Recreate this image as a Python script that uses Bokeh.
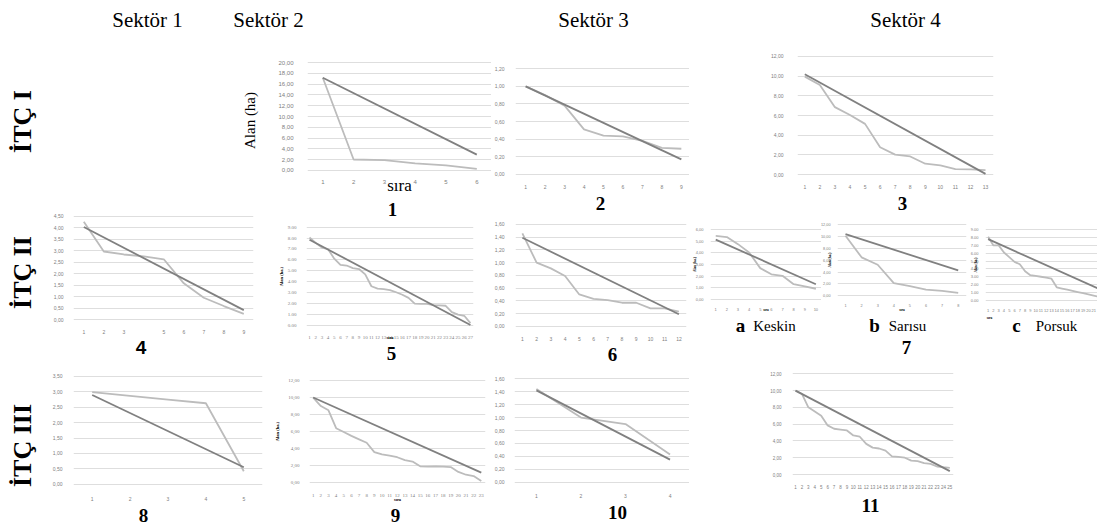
import math
from bokeh.plotting import figure
from bokeh.layouts import row, column
from bokeh.models import Range1d, FixedTicker, CustomJSTickFormatter, Label
from bokeh.embed import file_html
from bokeh.resources import INLINE

SERIF = "Liberation Serif"
SANS = "Liberation Sans"
LIGHT = "#bcbcbc"
DARK = "#808080"
GRID = "#dedede"
TICKC = "#808080"

# ---------------- data ----------------
sektor_titles = ["Sektör 1", "Sektör 2", "Sektör 3", "Sektör 4"]
itc_titles = ["İTÇ I", "İTÇ II", "İTÇ III"]
panel_numbers = ["1", "2", "3", "4", "5", "6", "7", "8", "9", "10", "11"]
sub_letters = ["a", "b", "c"]
sub_names = ["Keskin", "Sarısu", "Porsuk"]
y_title = "Alan (ha)"
y_title_small = "Alan (ha.)"
x_title = "sıra"

# observed areas (light grey) and fitted trend (dark grey: value at first and last rank)
area_1 = [17.2, 2.0, 1.9, 1.3, 0.9, 0.25]
trend_1 = [17.2, 2.9]
area_2 = [1.00, 0.90, 0.78, 0.51, 0.44, 0.43, 0.38, 0.30, 0.29]
trend_2 = [1.00, 0.17]
area_3 = [9.95, 9.1, 6.85, 6.05, 5.15, 2.77, 2.03, 1.84, 1.1, 0.94, 0.55, 0.52, 0.45]
trend_3 = [10.2, 0.07]
area_4 = [4.27, 2.97, 2.84, 2.76, 2.63, 1.58, 0.95, 0.59, 0.25]
trend_4 = [4.04, 0.41]
area_5 = [8.05, 7.56, 7.12, 6.98, 6.11, 5.54, 5.48, 5.25, 5.16, 4.67, 3.58, 3.37, 3.32,
          3.23, 3.03, 2.80, 2.51, 1.99, 1.96, 1.96, 1.85, 1.82, 1.79, 1.21, 0.98, 0.87, 0.20]
trend_5 = [7.85, 0.02]
area_6 = [1.46, 1.00, 0.91, 0.79, 0.50, 0.43, 0.41, 0.37, 0.37, 0.28, 0.28, 0.23]
trend_6 = [1.39, 0.19]
area_7a = [5.47, 5.37, 4.76, 4.05, 2.70, 2.17, 2.04, 1.32, 1.14, 0.93]
trend_7a = [5.15, 1.32]
area_7b = [10.1, 6.47, 5.23, 2.14, 1.64, 1.05, 0.85, 0.50]
trend_7b = [10.36, 4.28]
area_7c = [8.1, 7.0, 7.0, 6.1, 5.5, 4.9, 4.6, 3.7, 3.2, 3.1, 3.0, 2.9, 2.75, 1.65,
           1.5, 1.35, 1.2, 1.05, 0.9, 0.75, 0.6, 0.45]
trend_7c = [7.8, 1.45]
area_8 = [2.99, 2.87, 2.75, 2.63, 0.42]
trend_8 = [2.90, 0.55]
area_9 = [9.99, 9.0, 8.5, 6.4, 5.96, 5.5, 5.1, 4.7, 3.6, 3.33, 3.2, 3.0, 2.67, 2.5,
          1.94, 1.9, 1.92, 1.9, 1.85, 1.28, 0.95, 0.8, 0.22]
trend_9 = [10.0, 1.2]
area_10 = [1.44, 1.00, 0.90, 0.43]
trend_10 = [1.42, 0.35]
area_11 = [10.0, 9.6, 8.0, 7.5, 7.0, 5.85, 5.45, 5.35, 5.25, 4.65, 4.5, 3.65, 3.2,
           3.1, 2.85, 2.15, 2.1, 2.0, 1.65, 1.6, 1.35, 1.27, 0.95, 0.87, 0.8]
trend_11 = [10.0, 0.4]

# ---------------- helpers ----------------
COMMA = "return tick.toFixed(2).replace('.', ',');"
DOT = "return tick.toFixed(2);"


def blank(box):
    bx, by, bw, bh = box
    p = figure(width=bw, height=bh, x_range=Range1d(0, 1), y_range=Range1d(0, 1),
               x_axis_type=None, y_axis_type=None, toolbar_location=None,
               output_backend="svg", min_border=0, min_border_left=0, min_border_right=0,
               min_border_top=0, min_border_bottom=0, outline_line_color=None)
    p.title.visible = False
    p._ref = (bx, by + bh)
    return p


def panel(box, obs, trend, ymax, ystep, x1px, dxpx, y0px, ytpx, fs=5, font=SANS,
          fmt=COMMA, ystand=5, xstand=3, hide=None):
    bx, by, bw, bh = box
    n = len(obs)
    fl = max(round(x1px - dxpx / 2), bx)
    fr = min(round(x1px + (n - 1) * dxpx + dxpx / 2), bx + bw)
    ft = round(ytpx) - 1
    fb = round(y0px) + 1
    ppu = (y0px - ytpx) / ymax
    p = figure(width=bw, height=bh,
               x_range=Range1d(1 + (fl - x1px) / dxpx, 1 + (fr - x1px) / dxpx),
               y_range=Range1d(-(fb - y0px) / ppu, ymax + (ytpx - ft) / ppu),
               min_border_left=fl - bx, min_border_right=bx + bw - fr,
               min_border_top=ft - by, min_border_bottom=by + bh - fb,
               toolbar_location=None, output_backend="svg", outline_line_color=None)
    p.title.visible = False
    xt = FixedTicker(ticks=list(range(1, n + 1)))
    nt = int(round(ymax / ystep))
    yt = FixedTicker(ticks=[round(i * ystep, 6) for i in range(nt + 1)])
    p.xaxis.ticker = xt
    p.yaxis.ticker = yt
    p.ygrid.ticker = yt
    p.yaxis.formatter = CustomJSTickFormatter(code=fmt)
    if hide:
        p.xaxis.major_label_overrides = {h: "" for h in hide}
    for ax in p.xaxis + p.yaxis:
        ax.axis_line_color = None
        ax.major_tick_line_color = None
        ax.minor_tick_line_color = None
        ax.major_label_text_font = font
        ax.major_label_text_font_size = f"{fs}px"
        ax.major_label_text_color = TICKC
    p.xaxis.major_label_standoff = xstand
    p.yaxis.major_label_standoff = ystand
    p.xgrid.grid_line_color = None
    p.ygrid.grid_line_color = GRID
    p.ygrid.grid_line_width = 1
    xs = list(range(1, n + 1))
    p.line(xs, obs, line_color=LIGHT, line_width=1.8)
    p.line([1, n], trend, line_color=DARK, line_width=1.8)
    p._ref = (fl, fb)
    return p


def axis_titles(p, xt=None, yt=None, size=4.5, xstand=0, ystand=2, color="black", style="bold"):
    if xt:
        p.xaxis.axis_label = xt
        p.xaxis.axis_label_text_font = SERIF
        p.xaxis.axis_label_text_font_size = f"{size}px"
        p.xaxis.axis_label_text_font_style = style
        p.xaxis.axis_label_text_color = color
        p.xaxis.axis_label_standoff = xstand
    if yt:
        p.yaxis.axis_label = yt
        p.yaxis.axis_label_text_font = SERIF
        p.yaxis.axis_label_text_font_size = f"{size}px"
        p.yaxis.axis_label_text_font_style = style
        p.yaxis.axis_label_text_color = color
        p.yaxis.axis_label_standoff = ystand


def put(p, ix, iy, text, size, font=SERIF, style="normal", angle=0.0, color="black"):
    fl, fb = p._ref
    p.add_layout(Label(x=ix - fl, y=fb - iy, x_units="screen", y_units="screen", text=text,
                       text_font=font, text_font_size=f"{size}px", text_font_style=style,
                       text_color=color, text_align="center", text_baseline="middle",
                       angle=angle))


def cell(p):
    return row(p)


NUM = 19
# ---------------- header ----------------
header = blank((0, 0, 1097, 46))
for t, cx in zip(sektor_titles, [147, 268, 593, 905]):
    put(header, cx, 19, t, 21)

# ---------------- column 0: row titles ----------------
c0 = blank((0, 46, 44, 482))
for t, cy in zip(itc_titles, [121, 272, 445]):
    put(c0, 22, cy, t, 26, style="bold", angle=math.pi / 2)

# ---------------- column 1 (Sektör 1) ----------------
b1 = blank((44, 46, 226, 159))
put(b1, 249, 120, y_title, 15, angle=math.pi / 2)
p4 = panel((44, 205, 226, 131), area_4, trend_4, 4.5, 0.5, 83.3, 20.0, 326, 216, fs=5,
           ystand=4, xstand=3, hide=[4])
s4 = blank((44, 336, 226, 22))
put(s4, 140.5, 346.5, panel_numbers[3], 19, font=SANS, style="bold")
p8 = panel((44, 358, 226, 145), area_8, trend_8, 3.5, 0.5, 91.7, 37.9, 487.7, 376, fs=5,
           ystand=5, xstand=5)
s8 = blank((44, 503, 226, 25))
put(s8, 143, 514.5, panel_numbers[7], NUM, style="bold")

# ---------------- column 2 (Sektör 2) ----------------
p1 = panel((270, 46, 221, 151), area_1, trend_1, 20, 2, 322.3, 30.8, 175.7, 62.3, fs=6,
           ystand=8, xstand=2)
axis_titles(p1, xt=x_title, size=17, xstand=-11, style="normal")
s1 = blank((270, 197, 221, 24))
put(s1, 392, 209, panel_numbers[0], NUM, style="bold")
p5 = panel((270, 221, 221, 121), area_5, trend_5, 9, 1, 309, 6.19, 330.7, 226.7, fs=5,
           font=SERIF, fmt=DOT, ystand=4, xstand=3)
axis_titles(p5, xt=x_title, yt=y_title_small, size=4.5, xstand=-7, ystand=1)
s5 = blank((270, 342, 221, 22))
put(s5, 391, 353, panel_numbers[4], NUM, style="bold")
p9 = panel((270, 364, 221, 140), area_9, trend_9, 12, 2, 312.7, 7.64, 489.3, 380, fs=5,
           font=SERIF, ystand=4, xstand=4)
axis_titles(p9, xt=x_title, yt=y_title_small, size=4.5, xstand=-3, ystand=5)
s9 = blank((270, 504, 221, 24))
put(s9, 395, 515, panel_numbers[8], NUM, style="bold")

# ---------------- column 3 (Sektör 3) ----------------
p2 = panel((491, 46, 198, 145), area_2, trend_2, 1.2, 0.2, 522.3, 19.8, 180.7, 68.3, fs=5,
           ystand=5, xstand=3)
s2 = blank((491, 191, 198, 23))
put(s2, 600, 202.5, panel_numbers[1], NUM, style="bold")
p6 = panel((491, 214, 198, 129), area_6, trend_6, 1.6, 0.2, 519, 14.48, 332.7, 224, fs=5,
           ystand=5, xstand=3)
s6 = blank((491, 343, 198, 22))
put(s6, 612, 354, panel_numbers[5], NUM, style="bold")
p10 = panel((491, 365, 198, 135), area_10, trend_10, 1.6, 0.2, 533.3, 45.3, 487.7, 378.3,
            fs=5, ystand=4, xstand=4)
s10 = blank((491, 500, 198, 28))
put(s10, 617, 512, panel_numbers[9], NUM, style="bold")

# ---------------- column 4 (Sektör 4) ----------------
p3 = panel((689, 46, 408, 145), area_3, trend_3, 12, 2, 804.3, 15.06, 180, 56, fs=5,
           ystand=8, xstand=3)
s3 = blank((689, 191, 408, 23))
put(s3, 902, 202.5, panel_numbers[2], NUM, style="bold")

p7a = panel((689, 214, 132, 100), area_7a, trend_7a, 6, 1, 705.7, 12.13, 305, 229.3, fs=4,
            ystand=1, xstand=1)
axis_titles(p7a, xt=x_title, yt=y_title_small, size=3.5, xstand=-6, ystand=-4)
p7b = panel((821, 214, 149, 100), area_7b, trend_7b, 12, 2, 845, 16.1, 304.3, 224, fs=3.8,
            ystand=1, xstand=1)
axis_titles(p7b, xt=x_title, yt=y_title_small, size=3.5, xstand=-2, ystand=-14)
p7c = panel((970, 214, 127, 100), area_7c, trend_7c, 9, 1, 985.7, 5.37, 303.7, 229.3, fs=4,
            fmt=DOT, ystand=1, xstand=1)
axis_titles(p7c, yt=y_title_small, size=3.5, ystand=-10)
s7 = blank((689, 314, 408, 44))
put(s7, 989, 317, x_title, 3.5, style="bold")
put(s7, 740, 325, sub_letters[0], 19, style="bold")
put(s7, 774, 325, sub_names[0], 15)
put(s7, 874, 325, sub_letters[1], 19, style="bold")
put(s7, 907, 325, sub_names[1], 15)
put(s7, 1016, 325, sub_letters[2], 19, style="bold")
put(s7, 1056, 325, sub_names[2], 15)
put(s7, 906, 346.5, panel_numbers[6], NUM, style="bold")

p11 = panel((689, 358, 408, 136), area_11, trend_11, 12, 2, 795, 6.43, 474, 373.3, fs=4.5,
            ystand=5, xstand=3)
s11 = blank((689, 494, 408, 34))
put(s11, 870, 505, panel_numbers[10], NUM, style="bold")

layout = column(
    cell(header),
    row(cell(c0),
        column(cell(b1), cell(p4), cell(s4), cell(p8), cell(s8)),
        column(cell(p1), cell(s1), cell(p5), cell(s5), cell(p9), cell(s9)),
        column(cell(p2), cell(s2), cell(p6), cell(s6), cell(p10), cell(s10)),
        column(cell(p3), cell(s3), row(cell(p7a), cell(p7b), cell(p7c)), cell(s7),
               cell(p11), cell(s11))),
)

open("out.html", "w").write(file_html(layout, INLINE))
